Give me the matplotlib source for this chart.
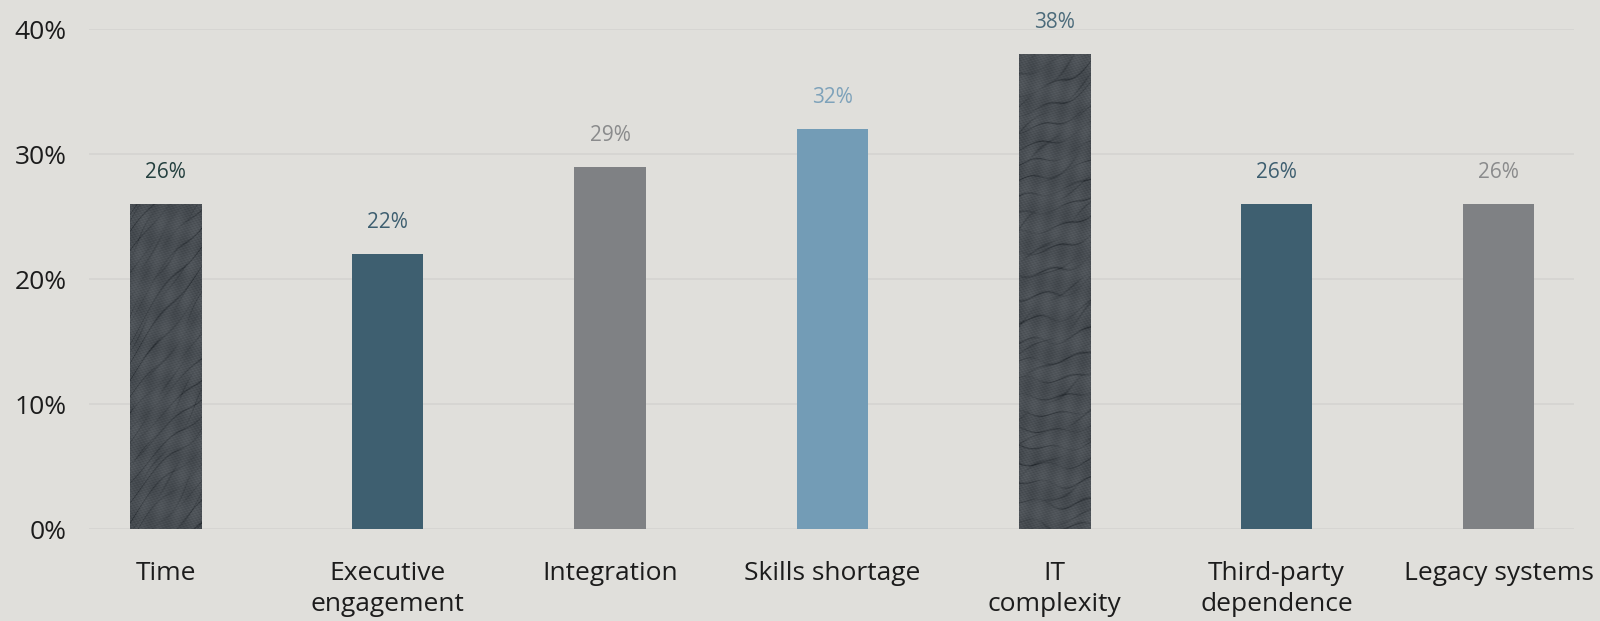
import numpy as np
import matplotlib
matplotlib.use("Agg")
import matplotlib.pyplot as plt
from matplotlib.ticker import FuncFormatter

# ---- data ----
categories = ["Time", "Executive\nengagement", "Integration", "Skills shortage",
              "IT\ncomplexity", "Third-party\ndependence", "Legacy systems"]
values = [26, 22, 29, 32, 38, 26, 26]
bar_colors = ["#3f4448", "#3e5f70", "#7f8184", "#739cb6", "#3f4448", "#3e5f70", "#7f8184"]
label_colors = ["#24403f", "#3e5f70", "#8a8b8c", "#7ea2ba", "#4c6b7b", "#3e5f70", "#8a8b8c"]
textured = [True, False, False, False, True, False, False]
yticks = [0, 10, 20, 30, 40]

BG = "#e0dfdb"
FONT = "Open Sans"

plt.rcParams["font.family"] = [FONT, "DejaVu Sans"]

fig = plt.figure(figsize=(16, 6.21), dpi=100, facecolor=BG)
ax = fig.add_axes([0.0556, 0.148, 0.9284, 0.805], facecolor=BG)

x = np.arange(len(categories))
bar_w = 0.32
bars = ax.bar(x, values, width=bar_w, color=bar_colors, zorder=3, linewidth=0)


def skin_texture(h_px, w_px, slope_top, slope_bottom, phase):
    """Wrinkled leather-like grey texture, returned as RGB array."""
    yy, xx = np.mgrid[0:h_px, 0:w_px].astype(float)
    t = yy / max(h_px - 1, 1)
    slope = slope_top * (1 - t) + slope_bottom * t
    warp = (5 * np.sin(xx / 19 + phase) + 7 * np.sin(yy / 41 + 1.7 * phase)
            + 3 * np.sin(xx / 7 + yy / 29 + phase))
    u1 = yy + slope * xx + warp
    u2 = yy + (slope + 0.35) * xx + 4 * np.sin(yy / 13 + phase) + 3 * np.sin(xx / 9) + 11
    c1 = np.exp(-(np.sin(np.pi * u1 / 19.0) ** 2) / 0.02)
    c2 = np.exp(-(np.sin(np.pi * u2 / 31.0) ** 2) / 0.012)
    # creases fade in and out along their length
    fade1 = 0.6 + 0.4 * np.sin(xx / 11 + yy / 23 + phase)
    fade2 = 0.5 + 0.5 * np.sin(-xx / 13 + yy / 17 + 2 * phase)
    crease = np.clip(0.75 * c1 * fade1 + 0.5 * c2 * fade2, 0, 1)
    mottle = (0.03 * np.sin(xx * 1.3 + yy * 0.7 + phase) * np.sin(yy * 1.9 - xx * 0.5)
              + 0.025 * np.sin(xx / 6 + yy / 9 + 2 * phase) * np.sin(yy / 15 - xx / 5))
    base = np.array([0.29, 0.31, 0.33])
    dark = np.array([0.17, 0.19, 0.21])
    img = base[None, None, :] * (1 - crease[..., None]) + dark[None, None, :] * crease[..., None]
    img = img + mottle[..., None]
    return np.clip(img, 0, 1)


px_per_unit = 12.5  # vertical pixels per percentage point
for i, (b, tex) in enumerate(zip(bars, textured)):
    if not tex:
        continue
    h = b.get_height()
    x0 = b.get_x()
    x1 = x0 + b.get_width()
    if i == 0:
        img = skin_texture(int(h * px_per_unit), 71, 1.3, 1.1, 0.4)
    else:
        img = skin_texture(int(h * px_per_unit), 71, 0.55, 0.05, 2.1)
    im = ax.imshow(img, extent=(x0, x1, 0, h), origin="upper", aspect="auto",
                   interpolation="bilinear", zorder=4)
    im.set_clip_path(b)

# value labels
for xi, v, c in zip(x, values, label_colors):
    ax.annotate(f"{v}%", (xi, v), xytext=(0, 15), textcoords="offset points",
                ha="center", va="bottom", fontsize=15, color=c, zorder=5,
                annotation_clip=False)

ax.set_xlim(-0.345, len(categories) - 1 + 0.34)
ax.set_ylim(0, 40)
ax.set_yticks(yticks)
ax.yaxis.set_major_formatter(FuncFormatter(lambda v, _: f"{int(v)}%"))
ax.set_xticks(x)
ax.set_xticklabels(categories, fontsize=19, color="#1c1c1c", linespacing=1.3)
ax.tick_params(axis="x", length=0, pad=23)
ax.tick_params(axis="y", length=0, pad=16, labelsize=19, labelcolor="#1c1c1c")
for lbl in ax.get_yticklabels():
    lbl.set_verticalalignment("center_baseline")

ax.grid(axis="y", color="#d6d5d2", linewidth=1.3, zorder=0)
ax.grid(axis="x", visible=False)
for s in ax.spines.values():
    s.set_visible(False)

fig.savefig("out.png", dpi=100, facecolor=BG)
